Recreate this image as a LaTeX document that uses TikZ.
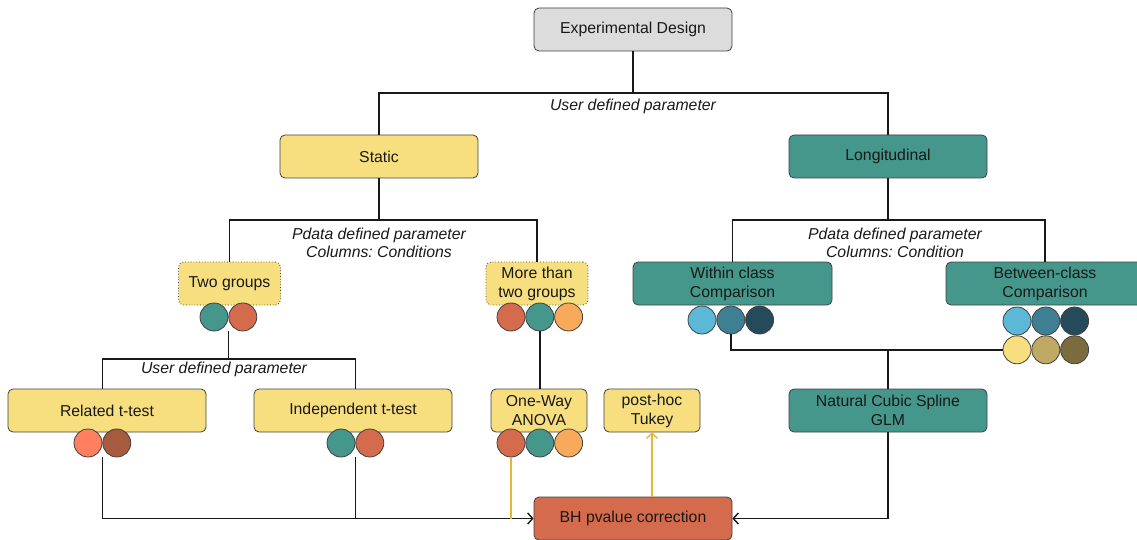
\documentclass[tikz,border=0pt]{standalone}
\usepackage{fontspec}
\setmainfont{Liberation Sans}
\frenchspacing
\usetikzlibrary{arrows.meta, positioning, shapes}

\definecolor{boxgray}{HTML}{DCDCDC}
\definecolor{statyellow}{HTML}{F7DF80}
\definecolor{longteal}{HTML}{45968B}
\definecolor{bhred}{HTML}{D46B4C}
\definecolor{lightorange}{HTML}{F9A95A}
\definecolor{salmon}{HTML}{FF7F5E}
\definecolor{rustbrown}{HTML}{A65A3E}
\definecolor{lightblue}{HTML}{5BB8D6}
\definecolor{midblue}{HTML}{3E7F94}
\definecolor{darkblue}{HTML}{254B5A}
\definecolor{tan}{HTML}{C0A962}
\definecolor{olive}{HTML}{7A6C3C}
\definecolor{lineyellow}{HTML}{E6B53A}

\begin{document}
\begin{tikzpicture}[
    x=1pt, y=-1pt,
    box style/.style={rectangle, rounded corners=5pt, draw=black!75, line width=0.8pt, minimum height=43pt, inner sep=2pt, align=center, font=\fontsize{15.8}{19}\selectfont, text=black!90},
    static box/.style={box style, fill=statyellow},
    long box/.style={box style, fill=longteal},
    group box/.style={box style, fill=statyellow, dotted},
    dot/.style={circle, draw=black!75, line width=0.8pt, minimum size=28pt, inner sep=0pt},
    edgelabel/.style={font=\fontsize{15.8}{18}\selectfont\itshape, align=center, text=black!90},
    conn/.style={line width=1.4pt, black!90},
    pline/.style={line width=1.4pt, lineyellow},
    arr/.style={-{Straight Barb[length=5pt, width=11pt]}},
]
    \useasboundingbox (0,0) rectangle (1137,540);

    % Boxes
    \node[box style, fill=boxgray, minimum width=198pt] (exp) at (633,29.5) {Experimental Design};
    \node[static box, minimum width=198pt] (static) at (379,156.5) {Static};
    \node[long box, minimum width=198pt] (longi) at (888,156.5) {Longitudinal};
    \node[group box, minimum width=102pt] (twogrp) at (229.5,283.5) {Two groups};
    \node[group box, minimum width=102pt] (moregrp) at (537,283.5) {More than\\two groups};
    \node[long box, minimum width=199pt] (within) at (732.5,283.5) {Within class\\Comparison};
    \node[long box, minimum width=198pt] (between) at (1045,283.5) {Between-class\\Comparison};
    \node[static box, minimum width=198pt] (related) at (107,410.5) {Related t-test};
    \node[static box, minimum width=198pt] (indep) at (353,410.5) {Independent t-test};
    \node[static box, minimum width=96pt] (anova) at (539,410.5) {One-Way\\ANOVA};
    \node[static box, minimum width=96pt] (tukey) at (652,410.5) {post-hoc\\Tukey};
    \node[long box, minimum width=198pt] (spline) at (888,410.5) {Natural Cubic Spline\\GLM};
    \node[box style, fill=bhred, minimum width=198pt] (bh) at (633,518.5) {BH pvalue correction};

    % Condition dots
    \node[dot, fill=longteal] (tg1) at (214,317) {};
    \node[dot, fill=bhred, right=0pt of tg1] (tg2) {};

    \node[dot, fill=bhred] (mg1) at (511,317) {};
    \node[dot, fill=longteal, right=0pt of mg1] (mg2) {};
    \node[dot, fill=lightorange, right=0pt of mg2] (mg3) {};

    \node[dot, fill=lightblue] (wc1) at (702,320) {};
    \node[dot, fill=midblue, right=0pt of wc1] (wc2) {};
    \node[dot, fill=darkblue, right=0pt of wc2] (wc3) {};

    \node[dot, fill=lightblue] (bc1) at (1017,321) {};
    \node[dot, fill=midblue, right=0pt of bc1] (bc2) {};
    \node[dot, fill=darkblue, right=0pt of bc2] (bc3) {};
    \node[dot, fill=statyellow, below=0pt of bc1] (bd1) {};
    \node[dot, fill=tan, right=0pt of bd1] (bd2) {};
    \node[dot, fill=olive, right=0pt of bd2] (bd3) {};

    \node[dot, fill=salmon] (rt1) at (88,443) {};
    \node[dot, fill=rustbrown, right=0pt of rt1] (rt2) {};

    \node[dot, fill=longteal] (it1) at (341,443) {};
    \node[dot, fill=bhred, right=0pt of it1] (it2) {};

    \node[dot, fill=bhred] (an1) at (511,443) {};
    \node[dot, fill=longteal, right=0pt of an1] (an2) {};
    \node[dot, fill=lightorange, right=0pt of an2] (an3) {};

    % Tree connectors
    \coordinate (j1) at (633,93);
    \draw[conn] (exp) -- (j1);
    \draw[conn] (static) |- (j1) -| (longi);
    \node[edgelabel] (lbl1) at (633,106) {User defined parameter};

    \coordinate (j2) at (379,220);
    \draw[conn] (static) -- (j2);
    \draw[conn] (twogrp) |- (j2) -| (moregrp);
    \node[edgelabel] (lbl2) at (379,243) {Pdata defined parameter\\Columns: Conditions};

    \coordinate (j3) at (888,220);
    \draw[conn] (longi) -- (j3);
    \draw[conn] (within) |- (j3) -| (between);
    \node[edgelabel] (lbl3) at (895,243) {Pdata defined parameter\\Columns: Condition};

    \coordinate (j4) at (tg1.east |- 0,359);
    \draw[conn] (tg1.east |- tg1.south) -- (j4);
    \draw[conn] (j4) -| (rt1.east |- related.north);
    \draw[conn] (j4) -| (it1.east |- indep.north);
    \node[edgelabel] (lbl4) at (224,369) {User defined parameter};

    \draw[conn] (mg2.south) -- (mg2.south |- anova.north);

    \coordinate (j6) at (spline.north |- bd1.west);
    \draw[conn] (wc2.south) |- (bd1.west);
    \draw[conn] (j6) -- (spline);

    % Into the correction
    \coordinate (j5) at (it1.east |- bh.west);
    \draw[conn] (rt1.east |- rt1.south) |- (j5);
    \draw[conn] (it1.east |- it1.south) -- (j5);
    \draw[conn, arr] (j5) -- (bh);
    \draw[conn, arr] (spline) |- (bh);
    \draw[pline] (an1.south) -- (an1.south |- bh.west);
    \draw[pline, arr] (tukey.south |- bh.north) -- (tukey);

\end{tikzpicture}
\end{document}
